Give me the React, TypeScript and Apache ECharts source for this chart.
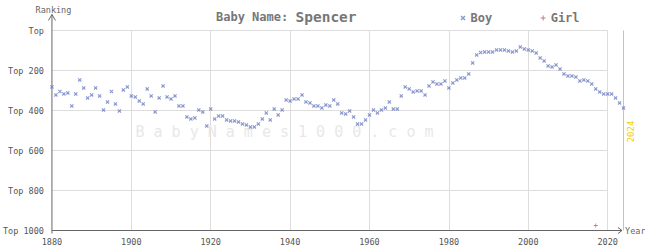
import React, { useEffect, useRef } from 'react';
import * as echarts from 'echarts';

const babyName = 'Spencer';
const startYear = 1880;
const boyRanks = [
  282, 322, 305, 317, 312, 377, 317, 247, 287, 337,
  322, 287, 327, 397, 357, 305, 367, 402, 297, 282,
  327, 332, 352, 367, 292, 327, 407, 337, 277, 332,
  342, 327, 377, 377, 432, 442, 437, 397, 407, 477,
  392, 442, 427, 427, 447, 452, 452, 457, 467, 472,
  482, 482, 467, 442, 412, 447, 392, 422, 397, 347,
  352, 342, 342, 322, 357, 362, 377, 377, 387, 372,
  377, 347, 367, 412, 417, 402, 432, 467, 467, 447,
  422, 397, 412, 397, 387, 357, 392, 392, 327, 282,
  292, 307, 302, 302, 322, 277, 257, 267, 267, 252,
  287, 262, 247, 237, 237, 217, 162, 122, 110, 107,
  107, 107, 97, 97, 97, 102, 107, 102, 82, 92,
  97, 102, 112, 137, 152, 177, 182, 172, 192, 217,
  227, 227, 232, 252, 247, 252, 267, 292, 307, 317,
  317, 317, 337, 362, 387,
];
const girlYears = [2017];
const girlRanks = [975];
const yearTicks = [1880, 1900, 1920, 1940, 1960, 1980, 2000, 2020];
const rankTicks = [0, 200, 400, 600, 800, 1000];
const currentYear = 2024;
const xMax = 2025;

const FONT = '"DejaVu Sans Mono", monospace';
const X_PATH = 'path://M0,1L1,0L5,4L4,5Z M4,0L5,1L1,5L0,4Z';
const PLUS_PATH = 'path://M2,0L3,0L3,2L5,2L5,3L3,3L3,5L2,5L2,3L0,3L0,2L2,2Z';
const BOY_COLOR = '#6f80c2';
const GIRL_COLOR = '#c4517f';
const GRID_COLOR = '#dddddd';
const AXIS_COLOR = '#666666';
const YELLOW = '#f2d000';

export default function App() {
  const ref = useRef<HTMLDivElement>(null);
  useEffect(() => {
    if (!ref.current) return;
    const chart = echarts.init(ref.current, undefined, { renderer: 'svg' });
    const lastTick = yearTicks[yearTicks.length - 1];
    const gridLines: any[] = [];
    yearTicks.slice(1).forEach((y) => {
      gridLines.push([{ coord: [y, rankTicks[0]] }, { coord: [y, rankTicks[rankTicks.length - 1]] }]);
    });
    rankTicks.slice(0, -1).forEach((r) => {
      gridLines.push([{ coord: [yearTicks[0], r] }, { coord: [lastTick, r] }]);
    });
    const option: any = {
      animation: false,
      grid: { left: 47.5, top: 30.5, width: 580, height: 200 },
      title: {
        text: '{a|Baby Name: }{b|' + babyName + '}',
        left: 211,
        top: 4,
        textStyle: {
          fontFamily: FONT,
          fontSize: 12,
          color: '#777',
          rich: {
            a: { fontFamily: FONT, fontSize: 12, fontWeight: 'bold', color: '#777' },
            b: { fontFamily: FONT, fontSize: 14.5, color: '#777' },
          },
        },
      },
      legend: {
        data: ['Boy', 'Girl'],
        left: 455.5,
        top: 7,
        itemGap: 48.5,
        itemWidth: 5,
        itemHeight: 5,
        textStyle: { fontFamily: FONT, fontSize: 12, fontWeight: 'bold', color: '#777' },
      },
      xAxis: {
        type: 'value',
        min: startYear,
        max: xMax,
        interval: 20,
        axisLine: { show: false },
        axisTick: { show: false },
        splitLine: { show: false },
        axisLabel: {
          formatter: (v: number) => (yearTicks.includes(v) ? String(v) : ''),
          color: '#555',
          fontFamily: FONT,
          fontSize: 8.5,
          margin: 7,
        },
      },
      yAxis: {
        type: 'value',
        inverse: true,
        min: 0,
        max: 1000,
        interval: 200,
        axisLine: { show: false },
        axisTick: { show: false },
        splitLine: { show: false },
        axisLabel: {
          formatter: (v: number) => (v === 0 ? 'Top' : 'Top ' + v),
          color: '#555',
          fontFamily: FONT,
          fontSize: 8.5,
          margin: 8,
        },
      },
      series: [
        {
          name: 'grid',
          type: 'line',
          data: [],
          silent: true,
          z: 0,
          markLine: {
            silent: true,
            z: 0,
            symbol: ['none', 'none'],
            label: { show: false },
            lineStyle: { color: GRID_COLOR, width: 1, type: 'solid' },
            emphasis: { disabled: true },
            data: [
              ...gridLines,
              [
                { coord: [currentYear, rankTicks[0]], lineStyle: { color: YELLOW, width: 1, type: 'solid' } },
                { coord: [currentYear, rankTicks[rankTicks.length - 1]] },
              ],
            ],
          },
        },
        {
          name: 'Boy',
          type: 'scatter',
          data: boyRanks.map((r, i) => [startYear + i, r]),
          symbol: X_PATH,
          symbolSize: 4,
          itemStyle: { color: BOY_COLOR },
          z: 3,
        },
        {
          name: 'Girl',
          type: 'scatter',
          data: girlYears.map((y, i) => [y, girlRanks[i]]),
          symbol: PLUS_PATH,
          symbolSize: 4,
          itemStyle: { color: GIRL_COLOR },
          z: 3,
        },
      ],
    };
    chart.setOption(option);
    const p = (x: number, y: number) => chart.convertToPixel({ gridIndex: 0 }, [x, y]) as number[];
    const [x0, yTop] = p(startYear, 0);
    const [, yBot] = p(startYear, 1000);
    const [xCur] = p(currentYear, 0);
    const xTip = xCur - 1.5;
    const lineStyle = { stroke: AXIS_COLOR, lineWidth: 1, fill: null };
    chart.setOption({
      graphic: [
        {
          type: 'text', z: 0, x: 284.5, y: 132,
          style: { text: 'B a b y N a m e s 1 0 0 0 . c o m', font: '15px "DejaVu Sans Mono"', fill: '#e8e8e8', textAlign: 'center', textVerticalAlign: 'middle' },
        },
        { type: 'line', z: 2, shape: { x1: x0, y1: yTop - 16, x2: x0, y2: yBot + 3 }, style: lineStyle },
        { type: 'polyline', z: 2, shape: { points: [[x0 - 3.5, yTop - 10], [x0, yTop - 16], [x0 + 3.5, yTop - 10]] }, style: lineStyle },
        { type: 'line', z: 2, shape: { x1: x0, y1: yBot, x2: xTip, y2: yBot }, style: lineStyle },
        { type: 'polyline', z: 2, shape: { points: [[xTip - 4, yBot - 3], [xTip, yBot], [xTip - 4, yBot + 3]] }, style: lineStyle },
        {
          type: 'text', z: 2, x: x0 + 1.5, y: yTop - 21,
          style: { text: 'Ranking', font: '8.5px "DejaVu Sans Mono"', fill: '#666', textAlign: 'center', textVerticalAlign: 'middle' },
        },
        {
          type: 'text', z: 2, x: xTip + 3, y: yBot,
          style: { text: 'Year', font: '8.5px "DejaVu Sans Mono"', fill: '#666', textAlign: 'left', textVerticalAlign: 'middle' },
        },
        {
          type: 'text', z: 2, x: xCur + 7.5, y: yTop + 101, rotation: Math.PI / 2,
          style: { text: String(currentYear), font: '9px "DejaVu Sans Mono"', fill: YELLOW, textAlign: 'center', textVerticalAlign: 'middle' },
        },
      ],
    });
    return () => chart.dispose();
  }, []);
  return <div ref={ref} style={{ width: 645, height: 250, position: 'absolute', left: 0, top: 0 }} />;
}
